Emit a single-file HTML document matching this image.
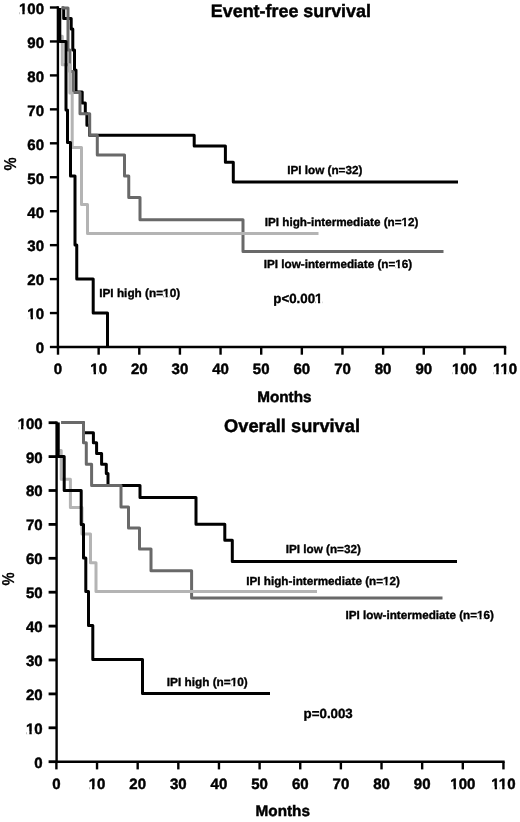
<!DOCTYPE html>
<html><head><meta charset="utf-8"><title>Survival curves</title>
<style>html,body{margin:0;padding:0;background:#fff;}body{width:520px;height:822px;overflow:hidden;font-family:"Liberation Sans", sans-serif;}svg{display:block;opacity:0.999;will-change:transform;}</style>
</head><body>
<svg width="520" height="822" viewBox="0 0 520 822" font-family='"Liberation Sans", sans-serif' font-weight="bold" fill="#000" text-rendering="geometricPrecision">
<rect width="520" height="822" fill="#fff"/>
<path d="M61.7,8 H63.7 V18.6 H71.2 V29 H72.8 V50 H74.5 V70 H76 V92 H82.2 V103 H85.3 V113.5 H86.9 V125.3 H89.5 V135.2 H194.2 V146 H225.4 V162.3 H233.3 V181.9 H458" fill="none" stroke="#000" stroke-width="3.0" stroke-linejoin="round" stroke-linecap="butt"/>
<path d="M61.7,8 H68 V50 H69.9 V71.6 H73.1 V92.6 H80 V113.75 H89.7 V135.2 H97.3 V155 H124.5 V176 H128.75 V197.5 H140 V219.8 H243 V251.4 H443.5" fill="none" stroke="#696969" stroke-width="3.0" stroke-linejoin="round" stroke-linecap="butt"/>
<path d="M59.5,8 V36.2 H62.3 V64.8 H69.9 V92.9 H72.2 V147.5 H81.5 V204.5 H87.5 V233.6 H318.5" fill="none" stroke="#b4b4b4" stroke-width="3.0" stroke-linejoin="round" stroke-linecap="butt"/>
<path d="M59.8,8 V41.5 H66 V110 H67.5 V142.5 H70.5 V176 H75 V245 H76.75 V279 H93.2 V313 H107.5 V347.5" fill="none" stroke="#000" stroke-width="3.0" stroke-linejoin="round" stroke-linecap="butt"/>
<path d="M57.9,6.3 V347.0 H506.24" fill="none" stroke="#000" stroke-width="2.4" stroke-linejoin="miter"/>
<path d="M49.9,7.50 H57.9" stroke="#000" stroke-width="2.4"/>
<g transform="translate(44.0,13.8) scale(1,1.0)"><text id="t1" text-anchor="end" font-size="15.0" stroke="#000" stroke-width="0.45">100</text><rect x="-24.30" y="-2.43" width="2.62" height="3.63" fill="#fff"/><rect x="-19.32" y="-2.43" width="2.61" height="3.63" fill="#fff"/></g>
<path d="M49.9,41.45 H57.9" stroke="#000" stroke-width="2.4"/>
<g transform="translate(44.0,47.75) scale(1,1.0)"><text id="t2" text-anchor="end" font-size="15.0" stroke="#000" stroke-width="0.45">90</text></g>
<path d="M49.9,75.40 H57.9" stroke="#000" stroke-width="2.4"/>
<g transform="translate(44.0,81.7) scale(1,1.0)"><text id="t3" text-anchor="end" font-size="15.0" stroke="#000" stroke-width="0.45">80</text></g>
<path d="M49.9,109.35 H57.9" stroke="#000" stroke-width="2.4"/>
<g transform="translate(44.0,115.65) scale(1,1.0)"><text id="t4" text-anchor="end" font-size="15.0" stroke="#000" stroke-width="0.45">70</text></g>
<path d="M49.9,143.30 H57.9" stroke="#000" stroke-width="2.4"/>
<g transform="translate(44.0,149.6) scale(1,1.0)"><text id="t5" text-anchor="end" font-size="15.0" stroke="#000" stroke-width="0.45">60</text></g>
<path d="M49.9,177.25 H57.9" stroke="#000" stroke-width="2.4"/>
<g transform="translate(44.0,183.55) scale(1,1.0)"><text id="t6" text-anchor="end" font-size="15.0" stroke="#000" stroke-width="0.45">50</text></g>
<path d="M49.9,211.20 H57.9" stroke="#000" stroke-width="2.4"/>
<g transform="translate(44.0,217.5) scale(1,1.0)"><text id="t7" text-anchor="end" font-size="15.0" stroke="#000" stroke-width="0.45">40</text></g>
<path d="M49.9,245.15 H57.9" stroke="#000" stroke-width="2.4"/>
<g transform="translate(44.0,251.45) scale(1,1.0)"><text id="t8" text-anchor="end" font-size="15.0" stroke="#000" stroke-width="0.45">30</text></g>
<path d="M49.9,279.10 H57.9" stroke="#000" stroke-width="2.4"/>
<g transform="translate(44.0,285.4) scale(1,1.0)"><text id="t9" text-anchor="end" font-size="15.0" stroke="#000" stroke-width="0.45">20</text></g>
<path d="M49.9,313.05 H57.9" stroke="#000" stroke-width="2.4"/>
<g transform="translate(44.0,319.35) scale(1,1.0)"><text id="t10" text-anchor="end" font-size="15.0" stroke="#000" stroke-width="0.45">10</text><rect x="-15.96" y="-2.43" width="2.62" height="3.63" fill="#fff"/><rect x="-10.98" y="-2.43" width="2.61" height="3.63" fill="#fff"/></g>
<path d="M49.9,347.00 H57.9" stroke="#000" stroke-width="2.4"/>
<g transform="translate(44.0,353.3) scale(1,1.0)"><text id="t11" text-anchor="end" font-size="15.0" stroke="#000" stroke-width="0.45">0</text></g>
<path d="M58.00,347.0 V354.7" stroke="#000" stroke-width="2.4"/>
<g transform="translate(58.0,374.2) scale(1,1.0)"><text id="t12" text-anchor="middle" font-size="15.0" stroke="#000" stroke-width="0.45">0</text></g>
<path d="M98.64,347.0 V354.7" stroke="#000" stroke-width="2.4"/>
<g transform="translate(98.64,374.2) scale(1,1.0)"><text id="t13" text-anchor="middle" font-size="15.0" stroke="#000" stroke-width="0.45">10</text><rect x="-7.61" y="-2.43" width="2.62" height="3.63" fill="#fff"/><rect x="-2.63" y="-2.43" width="2.61" height="3.63" fill="#fff"/></g>
<path d="M139.28,347.0 V354.7" stroke="#000" stroke-width="2.4"/>
<g transform="translate(139.28,374.2) scale(1,1.0)"><text id="t14" text-anchor="middle" font-size="15.0" stroke="#000" stroke-width="0.45">20</text></g>
<path d="M179.92,347.0 V354.7" stroke="#000" stroke-width="2.4"/>
<g transform="translate(179.92,374.2) scale(1,1.0)"><text id="t15" text-anchor="middle" font-size="15.0" stroke="#000" stroke-width="0.45">30</text></g>
<path d="M220.56,347.0 V354.7" stroke="#000" stroke-width="2.4"/>
<g transform="translate(220.56,374.2) scale(1,1.0)"><text id="t16" text-anchor="middle" font-size="15.0" stroke="#000" stroke-width="0.45">40</text></g>
<path d="M261.20,347.0 V354.7" stroke="#000" stroke-width="2.4"/>
<g transform="translate(261.2,374.2) scale(1,1.0)"><text id="t17" text-anchor="middle" font-size="15.0" stroke="#000" stroke-width="0.45">50</text></g>
<path d="M301.84,347.0 V354.7" stroke="#000" stroke-width="2.4"/>
<g transform="translate(301.84,374.2) scale(1,1.0)"><text id="t18" text-anchor="middle" font-size="15.0" stroke="#000" stroke-width="0.45">60</text></g>
<path d="M342.48,347.0 V354.7" stroke="#000" stroke-width="2.4"/>
<g transform="translate(342.48,374.2) scale(1,1.0)"><text id="t19" text-anchor="middle" font-size="15.0" stroke="#000" stroke-width="0.45">70</text></g>
<path d="M383.12,347.0 V354.7" stroke="#000" stroke-width="2.4"/>
<g transform="translate(383.12,374.2) scale(1,1.0)"><text id="t20" text-anchor="middle" font-size="15.0" stroke="#000" stroke-width="0.45">80</text></g>
<path d="M423.76,347.0 V354.7" stroke="#000" stroke-width="2.4"/>
<g transform="translate(423.76,374.2) scale(1,1.0)"><text id="t21" text-anchor="middle" font-size="15.0" stroke="#000" stroke-width="0.45">90</text></g>
<path d="M464.40,347.0 V354.7" stroke="#000" stroke-width="2.4"/>
<g transform="translate(464.4,374.2) scale(1,1.0)"><text id="t22" text-anchor="middle" font-size="15.0" stroke="#000" stroke-width="0.45">100</text><rect x="-11.78" y="-2.43" width="2.62" height="3.63" fill="#fff"/><rect x="-6.81" y="-2.43" width="2.61" height="3.63" fill="#fff"/></g>
<path d="M505.04,347.0 V354.7" stroke="#000" stroke-width="2.4"/>
<g transform="translate(505.04,374.2) scale(1,1.0)"><text id="t23" text-anchor="middle" font-size="15.0" stroke="#000" stroke-width="0.45">110</text><rect x="-11.37" y="-2.43" width="2.62" height="3.63" fill="#fff"/><rect x="-6.39" y="-2.43" width="2.61" height="3.63" fill="#fff"/><rect x="-3.87" y="-2.43" width="2.62" height="3.63" fill="#fff"/><rect x="1.11" y="-2.43" width="2.61" height="3.63" fill="#fff"/></g>
<g transform="translate(284.36,401.8) scale(1,1.0)"><text id="t24" text-anchor="middle" font-size="15.3" stroke="#000" stroke-width="0.45">Months</text></g>
<g transform="translate(290.9,17.3) scale(1,1.0)"><text id="t25" text-anchor="middle" font-size="17.9" stroke="#000" stroke-width="0.45">Event-free survival</text></g>
<text transform="translate(16.0,163.9) rotate(-90) scale(1,1.16)" text-anchor="middle" font-size="14.8" stroke="#000" stroke-width="0.2">%</text>
<g transform="translate(287.3,173.9) scale(1,1.0)"><text id="t26" text-anchor="start" font-size="11.7" stroke="#000" stroke-width="0.35">IPI low (n=32)</text></g>
<g transform="translate(264.8,226.2) scale(1,1.0)"><text id="t27" text-anchor="start" font-size="11.7" stroke="#000" stroke-width="0.35">IPI high-intermediate (n=12)</text><rect x="137.26" y="-2.09" width="2.01" height="3.29" fill="#fff"/><rect x="141.17" y="-2.09" width="2.03" height="3.29" fill="#fff"/></g>
<g transform="translate(263.8,267.7) scale(1,1.0)"><text id="t28" text-anchor="start" font-size="11.7" stroke="#000" stroke-width="0.35">IPI low-intermediate (n=16)</text><rect x="132.07" y="-2.09" width="2.01" height="3.29" fill="#fff"/><rect x="135.99" y="-2.09" width="2.03" height="3.29" fill="#fff"/></g>
<g transform="translate(99.2,296.5) scale(1,1.0)"><text id="t29" text-anchor="start" font-size="11.8" stroke="#000" stroke-width="0.35">IPI high (n=10)</text><rect x="64.47" y="-2.10" width="2.03" height="3.30" fill="#fff"/><rect x="68.41" y="-2.10" width="2.05" height="3.30" fill="#fff"/></g>
<g transform="translate(273.3,303) scale(1,1.0)"><text id="t30" text-anchor="start" font-size="13.3" stroke="#000" stroke-width="0.35">p&lt;0.001</text><rect x="42.42" y="-2.26" width="2.30" height="3.46" fill="#fff"/><rect x="46.84" y="-2.26" width="2.31" height="3.46" fill="#fff"/></g>
<path d="M61.5,422.5 H83.5 V432.8 H93.4 V442.8 H96.6 V453.5 H101.6 V464.3 H106.3 V473.5 H108 V485.5 H140 V497.5 H196 V524.3 H224.8 V540.3 H232.3 V561.5 H457" fill="none" stroke="#000" stroke-width="3.0" stroke-linejoin="round" stroke-linecap="butt"/>
<path d="M61.5,422.5 H83.5 V442.8 H86.3 V464.3 H91.6 V485.5 H121 V507 H128.5 V528 H139.5 V549 H151 V570.7 H191.6 V598.1 H442.5" fill="none" stroke="#696969" stroke-width="3.0" stroke-linejoin="round" stroke-linecap="butt"/>
<path d="M58,422.5 V450.6 H61.2 V479.3 H70.4 V507.4 H82 V534 H90.5 V562.7 H96 V591.5 H317" fill="none" stroke="#b4b4b4" stroke-width="3.0" stroke-linejoin="round" stroke-linecap="butt"/>
<path d="M58.2,422.5 V456.6 H64.2 V490.5 H81.2 V524.5 H83.5 V558 H85.8 V591.5 H88.5 V625.5 H92.8 V659.6 H142.5 V693.5 H270" fill="none" stroke="#000" stroke-width="3.0" stroke-linejoin="round" stroke-linecap="butt"/>
<path d="M56.6,421.5 V761.7 H504.64" fill="none" stroke="#000" stroke-width="2.4" stroke-linejoin="miter"/>
<path d="M48.6,422.70 H56.6" stroke="#000" stroke-width="2.8"/>
<g transform="translate(42.7,428.6) scale(1,1.0)"><text id="t31" text-anchor="end" font-size="15.0" stroke="#000" stroke-width="0.45">100</text><rect x="-24.30" y="-2.43" width="2.62" height="3.63" fill="#fff"/><rect x="-19.32" y="-2.43" width="2.61" height="3.63" fill="#fff"/></g>
<path d="M48.6,456.60 H56.6" stroke="#000" stroke-width="2.8"/>
<g transform="translate(42.7,462.5) scale(1,1.0)"><text id="t32" text-anchor="end" font-size="15.0" stroke="#000" stroke-width="0.45">90</text></g>
<path d="M48.6,490.50 H56.6" stroke="#000" stroke-width="2.8"/>
<g transform="translate(42.7,496.4) scale(1,1.0)"><text id="t33" text-anchor="end" font-size="15.0" stroke="#000" stroke-width="0.45">80</text></g>
<path d="M48.6,524.40 H56.6" stroke="#000" stroke-width="2.8"/>
<g transform="translate(42.7,530.3) scale(1,1.0)"><text id="t34" text-anchor="end" font-size="15.0" stroke="#000" stroke-width="0.45">70</text></g>
<path d="M48.6,558.30 H56.6" stroke="#000" stroke-width="2.8"/>
<g transform="translate(42.7,564.2) scale(1,1.0)"><text id="t35" text-anchor="end" font-size="15.0" stroke="#000" stroke-width="0.45">60</text></g>
<path d="M48.6,592.20 H56.6" stroke="#000" stroke-width="2.8"/>
<g transform="translate(42.7,598.1) scale(1,1.0)"><text id="t36" text-anchor="end" font-size="15.0" stroke="#000" stroke-width="0.45">50</text></g>
<path d="M48.6,626.10 H56.6" stroke="#000" stroke-width="2.8"/>
<g transform="translate(42.7,632.0) scale(1,1.0)"><text id="t37" text-anchor="end" font-size="15.0" stroke="#000" stroke-width="0.45">40</text></g>
<path d="M48.6,660.00 H56.6" stroke="#000" stroke-width="2.8"/>
<g transform="translate(42.7,665.9) scale(1,1.0)"><text id="t38" text-anchor="end" font-size="15.0" stroke="#000" stroke-width="0.45">30</text></g>
<path d="M48.6,693.90 H56.6" stroke="#000" stroke-width="2.8"/>
<g transform="translate(42.7,699.8) scale(1,1.0)"><text id="t39" text-anchor="end" font-size="15.0" stroke="#000" stroke-width="0.45">20</text></g>
<path d="M48.6,727.80 H56.6" stroke="#000" stroke-width="2.8"/>
<g transform="translate(42.7,733.7) scale(1,1.0)"><text id="t40" text-anchor="end" font-size="15.0" stroke="#000" stroke-width="0.45">10</text><rect x="-15.96" y="-2.43" width="2.62" height="3.63" fill="#fff"/><rect x="-10.98" y="-2.43" width="2.61" height="3.63" fill="#fff"/></g>
<path d="M48.6,761.70 H56.6" stroke="#000" stroke-width="2.8"/>
<g transform="translate(42.7,767.6) scale(1,1.0)"><text id="t41" text-anchor="end" font-size="15.0" stroke="#000" stroke-width="0.45">0</text></g>
<path d="M56.40,761.7 V769.4000000000001" stroke="#000" stroke-width="2.4"/>
<g transform="translate(56.4,788.9) scale(1,1.0)"><text id="t42" text-anchor="middle" font-size="15.0" stroke="#000" stroke-width="0.45">0</text></g>
<path d="M97.04,761.7 V769.4000000000001" stroke="#000" stroke-width="2.4"/>
<g transform="translate(97.04,788.9) scale(1,1.0)"><text id="t43" text-anchor="middle" font-size="15.0" stroke="#000" stroke-width="0.45">10</text><rect x="-7.61" y="-2.43" width="2.62" height="3.63" fill="#fff"/><rect x="-2.63" y="-2.43" width="2.61" height="3.63" fill="#fff"/></g>
<path d="M137.68,761.7 V769.4000000000001" stroke="#000" stroke-width="2.4"/>
<g transform="translate(137.68,788.9) scale(1,1.0)"><text id="t44" text-anchor="middle" font-size="15.0" stroke="#000" stroke-width="0.45">20</text></g>
<path d="M178.32,761.7 V769.4000000000001" stroke="#000" stroke-width="2.4"/>
<g transform="translate(178.32,788.9) scale(1,1.0)"><text id="t45" text-anchor="middle" font-size="15.0" stroke="#000" stroke-width="0.45">30</text></g>
<path d="M218.96,761.7 V769.4000000000001" stroke="#000" stroke-width="2.4"/>
<g transform="translate(218.96,788.9) scale(1,1.0)"><text id="t46" text-anchor="middle" font-size="15.0" stroke="#000" stroke-width="0.45">40</text></g>
<path d="M259.60,761.7 V769.4000000000001" stroke="#000" stroke-width="2.4"/>
<g transform="translate(259.6,788.9) scale(1,1.0)"><text id="t47" text-anchor="middle" font-size="15.0" stroke="#000" stroke-width="0.45">50</text></g>
<path d="M300.24,761.7 V769.4000000000001" stroke="#000" stroke-width="2.4"/>
<g transform="translate(300.24,788.9) scale(1,1.0)"><text id="t48" text-anchor="middle" font-size="15.0" stroke="#000" stroke-width="0.45">60</text></g>
<path d="M340.88,761.7 V769.4000000000001" stroke="#000" stroke-width="2.4"/>
<g transform="translate(340.88,788.9) scale(1,1.0)"><text id="t49" text-anchor="middle" font-size="15.0" stroke="#000" stroke-width="0.45">70</text></g>
<path d="M381.52,761.7 V769.4000000000001" stroke="#000" stroke-width="2.4"/>
<g transform="translate(381.52,788.9) scale(1,1.0)"><text id="t50" text-anchor="middle" font-size="15.0" stroke="#000" stroke-width="0.45">80</text></g>
<path d="M422.16,761.7 V769.4000000000001" stroke="#000" stroke-width="2.4"/>
<g transform="translate(422.16,788.9) scale(1,1.0)"><text id="t51" text-anchor="middle" font-size="15.0" stroke="#000" stroke-width="0.45">90</text></g>
<path d="M462.80,761.7 V769.4000000000001" stroke="#000" stroke-width="2.4"/>
<g transform="translate(462.8,788.9) scale(1,1.0)"><text id="t52" text-anchor="middle" font-size="15.0" stroke="#000" stroke-width="0.45">100</text><rect x="-11.78" y="-2.43" width="2.62" height="3.63" fill="#fff"/><rect x="-6.81" y="-2.43" width="2.61" height="3.63" fill="#fff"/></g>
<path d="M503.44,761.7 V769.4000000000001" stroke="#000" stroke-width="2.4"/>
<g transform="translate(503.44,788.9) scale(1,1.0)"><text id="t53" text-anchor="middle" font-size="15.0" stroke="#000" stroke-width="0.45">110</text><rect x="-11.37" y="-2.43" width="2.62" height="3.63" fill="#fff"/><rect x="-6.39" y="-2.43" width="2.61" height="3.63" fill="#fff"/><rect x="-3.87" y="-2.43" width="2.62" height="3.63" fill="#fff"/><rect x="1.11" y="-2.43" width="2.61" height="3.63" fill="#fff"/></g>
<g transform="translate(282.76,815.5) scale(1,1.0)"><text id="t54" text-anchor="middle" font-size="15.3" stroke="#000" stroke-width="0.45">Months</text></g>
<g transform="translate(292,432.1) scale(1,1.0)"><text id="t55" text-anchor="middle" font-size="18.25" stroke="#000" stroke-width="0.45">Overall survival</text></g>
<text transform="translate(14.3,579) rotate(-90) scale(1,1.16)" text-anchor="middle" font-size="14.8" stroke="#000" stroke-width="0.2">%</text>
<g transform="translate(285.8,553.3) scale(1,1.0)"><text id="t56" text-anchor="start" font-size="11.7" stroke="#000" stroke-width="0.35">IPI low (n=32)</text></g>
<g transform="translate(246.3,584.7) scale(1,1.0)"><text id="t57" text-anchor="start" font-size="11.7" stroke="#000" stroke-width="0.35">IPI high-intermediate (n=12)</text><rect x="137.26" y="-2.09" width="2.01" height="3.29" fill="#fff"/><rect x="141.17" y="-2.09" width="2.03" height="3.29" fill="#fff"/></g>
<g transform="translate(345.5,618.9) scale(1,1.0)"><text id="t58" text-anchor="start" font-size="11.7" stroke="#000" stroke-width="0.35">IPI low-intermediate (n=16)</text><rect x="132.07" y="-2.09" width="2.01" height="3.29" fill="#fff"/><rect x="135.99" y="-2.09" width="2.03" height="3.29" fill="#fff"/></g>
<g transform="translate(166.8,685.7) scale(1,1.0)"><text id="t59" text-anchor="start" font-size="11.8" stroke="#000" stroke-width="0.35">IPI high (n=10)</text><rect x="64.47" y="-2.10" width="2.03" height="3.30" fill="#fff"/><rect x="68.41" y="-2.10" width="2.05" height="3.30" fill="#fff"/></g>
<g transform="translate(303.6,718.1) scale(1,1.0)"><text id="t60" text-anchor="start" font-size="13.3" stroke="#000" stroke-width="0.35">p=0.003</text></g>
</svg>
</body></html>
